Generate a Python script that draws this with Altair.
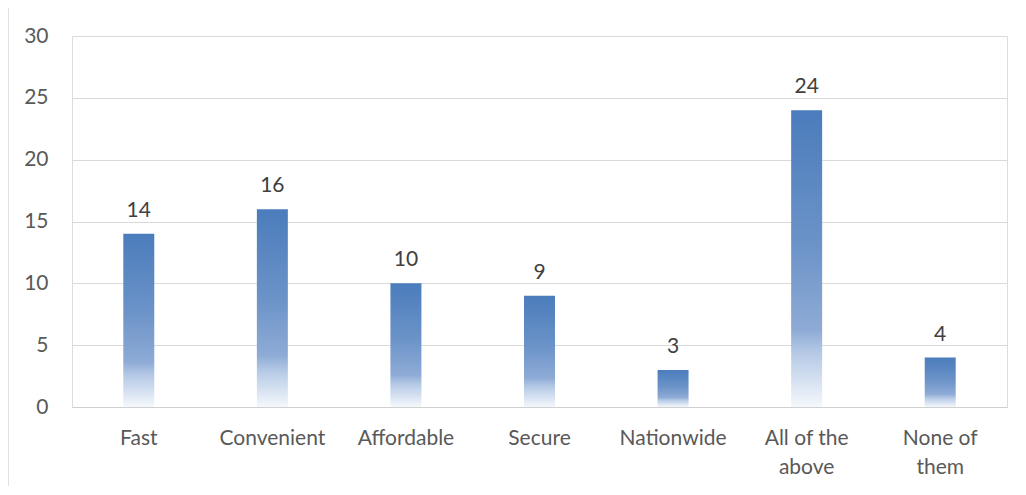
import altair as alt
import pandas as pd

categories = ["Fast", "Convenient", "Affordable", "Secure", "Nationwide", "All of the above", "None of them"]
counts = [14, 16, 10, 9, 3, 24, 4]
y_ticks = [0, 5, 10, 15, 20, 25, 30]

df = pd.DataFrame({"category": categories, "count": counts})
frame = pd.DataFrame({"k": [0]})

FONT = "Lato"
gradient = alt.LinearGradient(
    gradient="linear", x1=0, y1=0, x2=0, y2=1,
    stops=[
        alt.GradientStop(offset=0.0, color="#4b7cbc"),
        alt.GradientStop(offset=0.45, color="#6b93c8"),
        alt.GradientStop(offset=0.74, color="#8eabd6"),
        alt.GradientStop(offset=0.82, color="#b6cae6"),
        alt.GradientStop(offset=1.0, color="#f5f8fc"),
    ],
)

label_expr = ("datum.label == 'All of the above' ? ['All of the', 'above'] : "
              "datum.label == 'None of them' ? ['None of', 'them'] : datum.label")

x_enc = alt.X("category:N", sort=categories, title=None,
              scale=alt.Scale(paddingInner=0.768, paddingOuter=0.384),
              axis=alt.Axis(labelAngle=0, labelFont=FONT, labelFontSize=21, labelColor="#595959",
                            labelPadding=20, labelLineHeight=29, labelExpr=label_expr,
                            ticks=False, domainColor="#d0d0d0", domainWidth=1.2, grid=False))
y_enc = alt.Y("count:Q", title=None,
              scale=alt.Scale(domain=[0, 30], nice=False),
              axis=alt.Axis(values=y_ticks, labelFont=FONT, labelFontSize=21, labelColor="#595959",
                            labelPadding=24, ticks=False, domain=False,
                            gridColor="#d9d9d9", gridWidth=1.2))

bars = alt.Chart(df).mark_bar(color=gradient).encode(x=x_enc, y=y_enc)
texts = alt.Chart(df).mark_text(font=FONT, fontSize=21, color="#404040", baseline="alphabetic", dy=-17).encode(
    x=alt.X("category:N", sort=categories), y="count:Q", text="count:Q")
border = alt.Chart(frame).mark_rect(fill=None, stroke="#d9d9d9", strokeWidth=1.5, clip=False).encode(
    x=alt.value(-64), x2=alt.value(970), y=alt.value(-29), y2=alt.value(490))

chart = alt.layer(border, bars, texts).properties(
    width=935, height=371,
    autosize=alt.AutoSizeParams(type="none"),
    padding={"left": 64, "top": 28, "right": 9, "bottom": 79},
).configure_view(stroke=None).configure(background="white")

chart.save("out.html", embed_options={"renderer": "svg", "actions": False})
